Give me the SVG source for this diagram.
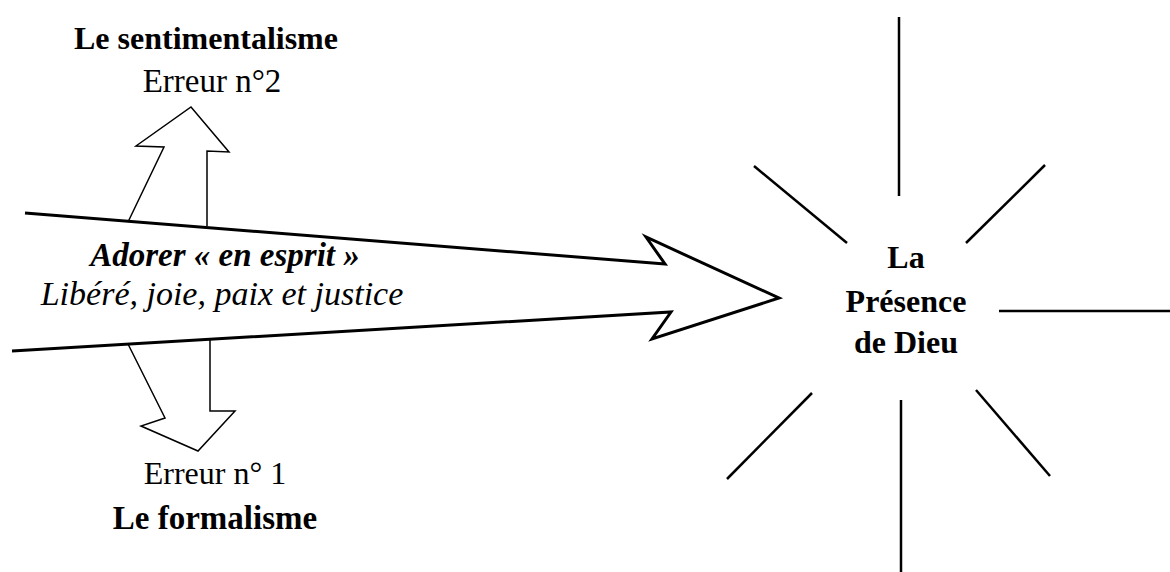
<svg xmlns="http://www.w3.org/2000/svg" width="1170" height="572" viewBox="0 0 1170 572">
<style>
.t{font-family:"Liberation Serif","Times New Roman",serif;fill:#000;text-anchor:middle}
.b{font-weight:bold}
.i{font-style:italic}
.ln{fill:none;stroke:#000;stroke-linejoin:miter}
.thick{stroke-width:3}
.thin{stroke-width:1.5}
.ray{stroke:#000;stroke-width:2.5}
</style>
<rect width="1170" height="572" fill="#fff"/>
<g id="connectors">
<polyline id="main-arrow" class="ln thick" points="25,213 665,264 646,237 779,298 652,339 671,312 12,351"/>
<polyline id="up-arrow" class="ln thin" points="128,222 164,147 136,146 191,107 229,152 207,151 207,226"/>
<polyline id="down-arrow" class="ln thin" points="128,344 165,418 141,426 198,451 235,411 210,411 210,338"/>
</g>
<g id="error2">
<text class="t b" x="206" y="49" font-size="32">Le sentimentalisme</text>
<text class="t" x="212" y="92" font-size="33">Erreur n°2</text>
</g>
<g id="adorer">
<text class="t b i" x="225" y="266" font-size="33">Adorer « en esprit »</text>
<text class="t i" x="222" y="305" font-size="34">Libéré, joie, paix et justice</text>
</g>
<g id="error1">
<text class="t" x="215" y="484" font-size="32">Erreur n° 1</text>
<text class="t b" x="215" y="529" font-size="33">Le formalisme</text>
</g>
<g id="presence">
<line class="ray" x1="899" y1="17" x2="899" y2="196"/>
<line class="ray" x1="754" y1="166" x2="847" y2="243"/>
<line class="ray" x1="1045" y1="165" x2="966" y2="243"/>
<line class="ray" x1="999" y1="311" x2="1170" y2="311"/>
<line class="ray" x1="812" y1="393" x2="727" y2="479"/>
<line class="ray" x1="901" y1="400" x2="901" y2="572"/>
<line class="ray" x1="976" y1="390" x2="1050" y2="476"/>
<text class="t b" x="906" y="268" font-size="32">La</text>
<text class="t b" x="906" y="312" font-size="32">Présence</text>
<text class="t b" x="906" y="353" font-size="32">de Dieu</text>
</g>
</svg>
